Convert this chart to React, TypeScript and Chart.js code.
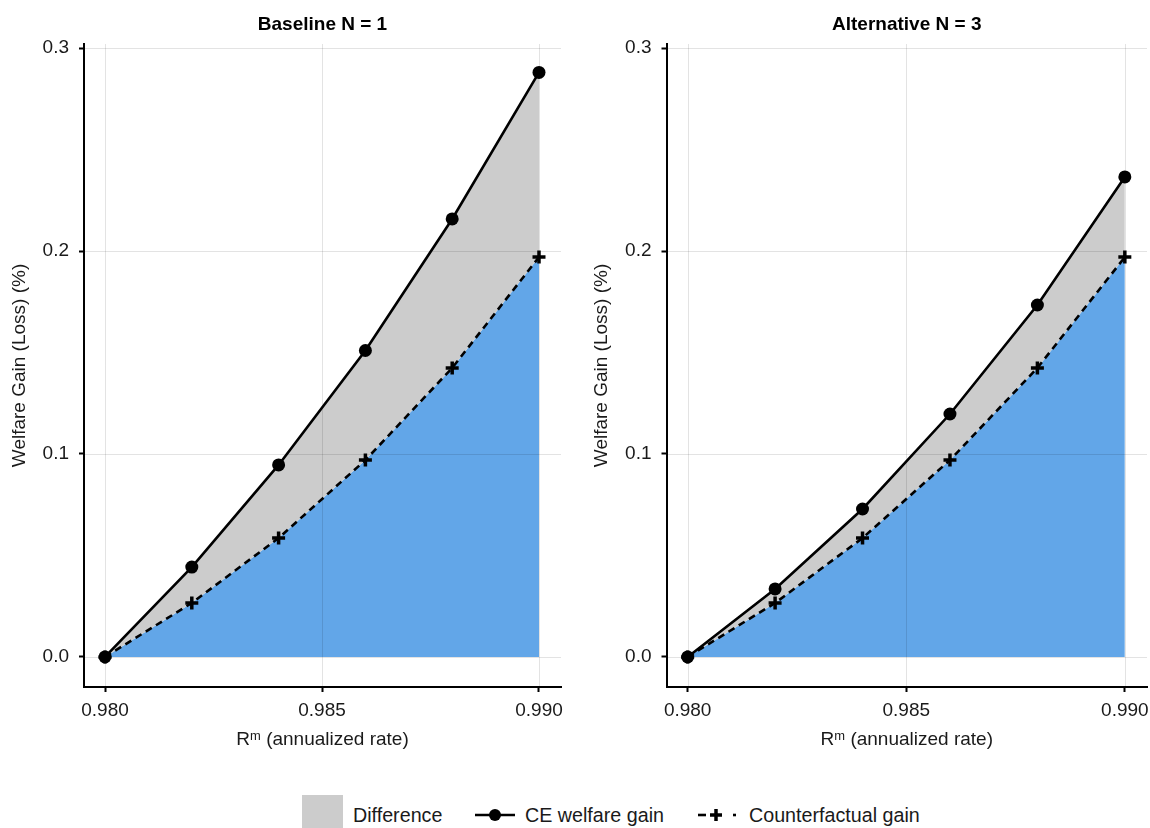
import React, { useEffect, useRef } from "react";
import { Chart, registerables } from "chart.js";

Chart.register(...registerables);

// ---- Data ----
const rates = [0.98, 0.982, 0.984, 0.986, 0.988, 0.99];
const ceBaseline = [0, 0.0443, 0.0946, 0.151, 0.2158, 0.288];
const cfBaseline = [0, 0.0266, 0.0586, 0.097, 0.1424, 0.197];
const ceAlternative = [0, 0.0335, 0.0729, 0.1197, 0.1734, 0.2365];
const cfAlternative = [0, 0.0266, 0.0586, 0.097, 0.1424, 0.197];
const xTicks = [0.98, 0.985, 0.99];
const yTicks = [0, 0.1, 0.2, 0.3];
const panelTitles = ["Baseline N = 1", "Alternative N = 3"];
const xTitle = "R\u1D50 (annualized rate)";
const yTitle = "Welfare Gain (Loss) (%)";
const legendLabels = ["Difference", "CE welfare gain", "Counterfactual gain"];

const FONT = "'Liberation Sans', Arial, Helvetica, sans-serif";
const GRAY = "#cccccc";
const BLUE = "#62a6e8";

const gridOnTop = {
  id: "gridOnTop",
  beforeDatasetsDraw(chart: any) {
    const { ctx, chartArea, scales } = chart;
    ctx.save();
    ctx.strokeStyle = "rgba(0,0,0,0.11)";
    ctx.lineWidth = 1;
    for (const v of xTicks) {
      const x = Math.round(scales.x.getPixelForValue(v)) + 0.5;
      ctx.beginPath();
      ctx.moveTo(x, chartArea.top);
      ctx.lineTo(x, chartArea.bottom);
      ctx.stroke();
    }
    for (const v of yTicks) {
      const y = Math.round(scales.y.getPixelForValue(v)) + 0.5;
      ctx.beginPath();
      ctx.moveTo(chartArea.left, y);
      ctx.lineTo(chartArea.right, y);
      ctx.stroke();
    }
    ctx.restore();
  },
};

type PanelProps = {
  title: string;
  ce: number[];
  cf: number[];
  width: number;
  leftWidth: number;
  rightPad: number;
  yTitlePad: number;
};

function Panel({ title, ce, cf, width, leftWidth, rightPad, yTitlePad }: PanelProps) {
  const ref = useRef<HTMLCanvasElement | null>(null);
  useEffect(() => {
    if (!ref.current) return;
    const chart = new Chart(ref.current, {
      type: "line",
      data: {
        datasets: [
          {
            label: legendLabels[1],
            data: rates.map((r, i) => ({ x: r, y: ce[i] })),
            borderColor: "#000",
            borderWidth: 2.6,
            backgroundColor: GRAY,
            fill: "+1",
            pointStyle: "circle",
            pointRadius: 6.5,
            pointBackgroundColor: "#000",
            pointBorderColor: "#000",
            pointBorderWidth: 0,
            tension: 0,
          },
          {
            label: legendLabels[2],
            data: rates.map((r, i) => ({ x: r, y: cf[i] })),
            borderColor: "#000",
            borderWidth: 2.6,
            borderDash: [7, 5],
            backgroundColor: BLUE,
            fill: "origin",
            pointStyle: "cross",
            pointRadius: 6.5,
            pointBorderColor: "#000",
            pointBorderWidth: 3.5,
            tension: 0,
          },
        ],
      },
      options: {
        animation: false,
        responsive: false,
        maintainAspectRatio: false,
        devicePixelRatio: 1,
        layout: { padding: { left: 0, right: rightPad, top: 0, bottom: 0 } },
        plugins: {
          legend: { display: false },
          tooltip: { enabled: false },
          filler: { drawTime: "beforeDatasetsDraw" },
          title: {
            display: true,
            text: title,
            fullSize: false,
            color: "#000",
            font: { family: FONT, size: 19, weight: "bold", lineHeight: 1.2 },
            padding: { top: 13.6, bottom: 7.6 },
          },
        },
        scales: {
          x: {
            type: "linear",
            min: 0.979516,
            max: 0.990507,
            afterBuildTicks: (s: any) => {
              s.ticks = xTicks.map((v) => ({ value: v }));
            },
            afterFit: (s: any) => {
              s.height = 83;
              s.paddingLeft = 0;
              s.paddingRight = 0;
            },
            ticks: {
              color: "#1a1a1a",
              font: { family: FONT, size: 19 },
              padding: 7,
              maxRotation: 0,
              autoSkip: false,
              callback: (v: any) => Number(v).toFixed(3),
            },
            grid: {
              drawOnChartArea: false,
              drawTicks: true,
              tickLength: 5,
              tickColor: "#000",
              tickWidth: 2,
            },
            border: { display: true, color: "#000", width: 2 },
            title: {
              display: true,
              text: xTitle,
              color: "#1a1a1a",
              font: { family: FONT, size: 19, lineHeight: 1.2 },
              padding: { top: 0, bottom: 18.6 },
            },
          },
          y: {
            type: "linear",
            min: -0.0148,
            max: 0.302,
            afterBuildTicks: (s: any) => {
              s.ticks = yTicks.map((v) => ({ value: v }));
            },
            afterFit: (s: any) => {
              s.width = leftWidth;
              s.paddingTop = 0;
              s.paddingBottom = 0;
            },
            ticks: {
              color: "#1a1a1a",
              font: { family: FONT, size: 19 },
              padding: 10,
              autoSkip: false,
              callback: (v: any) => Number(v).toFixed(1),
            },
            grid: {
              drawOnChartArea: false,
              drawTicks: true,
              tickLength: 5,
              tickColor: "#000",
              tickWidth: 2,
            },
            border: { display: true, color: "#000", width: 2 },
            title: {
              display: true,
              text: yTitle,
              color: "#1a1a1a",
              font: { family: FONT, size: 19, lineHeight: 1.2 },
              padding: { top: yTitlePad, bottom: 0 },
            },
          },
        },
      },
      plugins: [gridOnTop],
    } as any);
    return () => chart.destroy();
  }, []);
  return (
    <canvas
      ref={ref}
      width={width}
      height={770}
      style={{ width, height: 770, display: "block" }}
    />
  );
}

const textStyle: React.CSSProperties = {
  position: "absolute",
  top: 803,
  fontFamily: FONT,
  fontSize: 19.7,
  lineHeight: "24px",
  color: "#1a1a1a",
  whiteSpace: "nowrap",
};

function Legend() {
  return (
    <>
      <div
        style={{
          position: "absolute",
          left: 302,
          top: 795,
          width: 41,
          height: 33,
          background: GRAY,
        }}
      />
      <div style={{ ...textStyle, left: 353 }}>{legendLabels[0]}</div>
      <svg
        style={{ position: "absolute", left: 475, top: 803, overflow: "visible" }}
        width={40}
        height={24}
      >
        <line x1={0} y1={12} x2={40} y2={12} stroke="#000" strokeWidth={2.6} />
        <circle cx={20} cy={12} r={6} fill="#000" />
      </svg>
      <div style={{ ...textStyle, left: 525 }}>{legendLabels[1]}</div>
      <svg
        style={{ position: "absolute", left: 698, top: 803, overflow: "visible" }}
        width={40}
        height={24}
      >
        <line x1={0} y1={12} x2={8} y2={12} stroke="#000" strokeWidth={2.6} />
        <line x1={35} y1={12} x2={38} y2={12} stroke="#000" strokeWidth={2.6} />
        <line x1={12} y1={12} x2={24} y2={12} stroke="#000" strokeWidth={3.5} />
        <line x1={18} y1={6} x2={18} y2={18} stroke="#000" strokeWidth={3.5} />
      </svg>
      <div style={{ ...textStyle, left: 749 }}>{legendLabels[2]}</div>
    </>
  );
}

export default function App() {
  return (
    <div
      style={{
        position: "absolute",
        left: 0,
        top: 0,
        width: 1150,
        height: 828,
        background: "#fff",
        overflow: "hidden",
      }}
    >
      <div style={{ position: "absolute", left: 0, top: 0 }}>
        <Panel
          title={panelTitles[0]}
          ce={ceBaseline}
          cf={cfBaseline}
          width={575}
          leftWidth={84}
          rightPad={14}
          yTitlePad={8.6}
        />
      </div>
      <div style={{ position: "absolute", left: 575, top: 0 }}>
        <Panel
          title={panelTitles[1]}
          ce={ceAlternative}
          cf={cfAlternative}
          width={600}
          leftWidth={91.5}
          rightPad={28}
          yTitlePad={15.6}
        />
      </div>
      <Legend />
    </div>
  );
}
